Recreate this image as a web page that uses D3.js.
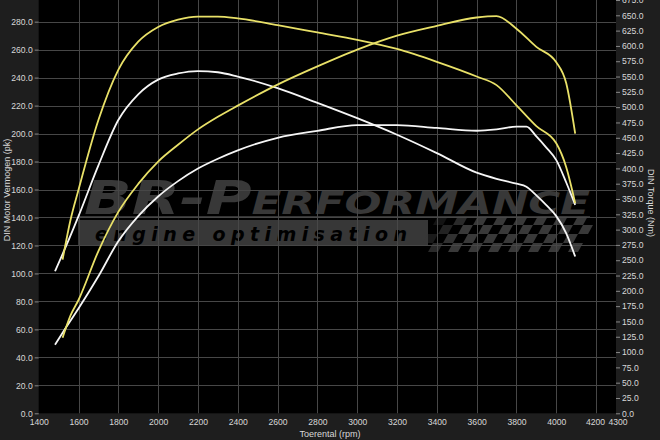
<!DOCTYPE html>
<html><head><meta charset="utf-8">
<script src="https://cdn.jsdelivr.net/npm/d3@7"></script>
<style>body{margin:0;background:#1e1e1e;} svg{display:block}</style>
</head><body><svg id="c" width="660" height="440"></svg>
<script>
// ---- data ----
const xTicks = [1400,1600,1800,2000,2200,2400,2600,2800,3000,3200,3400,3600,3800,4000,4200,4300];
const leftTicks = d3.range(0, 281, 20);
const rightTicks = d3.range(0, 676, 25);

const rpmWhite = [1482,1540,1600,1700,1800,1900,2000,2100,2200,2300,2400,2600,2800,3000,3200,3400,3600,3700,3800,3850,3900,3950,4000,4050,4095];
const whitePower = [49,62,75,98,123,141,155,166,175,182,188,197,202,206,206,204,202,203,205,205,198,190,181,165,149];
const whiteTorque = [232,275,322,405,479,521,545,555,559,557,550,531,507,482,455,425,393,383,375,370,356,340,322,294,256];

const rpmYellow = [1520,1560,1600,1700,1800,1900,2000,2100,2200,2300,2400,2600,2800,3000,3200,3400,3600,3700,3800,3900,4000,4050,4095];
const yellowPower = [54,70,81,116,144,164,180,192,203,212,220,235,248,260,270,277,283,284,275,262,251,236,200];
const yellowTorque = [251,316,365,479,561,607,631,643,648,648,645,634,622,610,595,574,550,536,503,469,441,402,343];

// ---- layout ----
const svg = d3.select('#c');
const L = 38.7, R = 616, T = 0, B = 413.3;
const x = d3.scaleLinear().domain([1400,4300]).range([L,R]);
const yL = d3.scaleLinear().domain([0,295.5]).range([B,T]);
const yR = d3.scaleLinear().domain([0,675]).range([B,T]);

svg.append('rect').attr('width',660).attr('height',440).attr('fill','#1e1e1e');
svg.append('rect').attr('x',L).attr('y',T).attr('width',R-L).attr('height',B-T).attr('fill','#000');

// ---- watermark ----
const wm = svg.append('g');
const wt = wm.append('text').attr('x',84).attr('y',214)
  .attr('font-family','DejaVu Sans').attr('font-style','italic').attr('font-weight','bold')
  .attr('fill','#383838').attr('textLength',506).attr('lengthAdjust','spacingAndGlyphs');
wt.append('tspan').attr('font-size',46).text('BR-P');
wt.append('tspan').attr('font-size',32).text('ERFORMANCE');
wm.append('rect').attr('x',80).attr('y',216).attr('width',510).attr('height',2).attr('fill','#353535');
wm.append('rect').attr('x',78).attr('y',220).attr('width',350).attr('height',26).attr('fill','#373737');
wm.append('text').attr('x',95).attr('y',241).attr('font-family','DejaVu Sans')
  .attr('font-style','italic').attr('font-weight','bold').attr('font-size',19)
  .attr('fill','#000').attr('textLength',312).attr('lengthAdjust','spacing').text('engine optimisation');
// checkered flag
const cf = wm.append('g');
const cw = 10, ch = 9;
for (let r = 0; r < 4; r++) {
  for (let c = 0; c < 18; c++) {
    if ((r + c) % 2) continue;
    const y0 = 216 + r*ch;
    const x0 = 418 + c*cw + (3 - r)*5;
    const minX = 440 - r*8;
    if (x0 < minX - 12 || x0 > 580) continue;
    const sk = 5;
    cf.append('path').attr('d',`M${x0+sk},${y0}L${x0+sk+cw},${y0}L${x0+cw},${y0+ch}L${x0},${y0+ch}Z`)
      .attr('fill','#393939').attr('opacity', Math.max(0.25, Math.min(1,(x0-minX+24)/50)));
  }
}

// ---- grid ----
const grid = svg.append('g').attr('stroke','#474747').attr('stroke-width',1);
grid.selectAll('.v').data(xTicks.slice(1,-1)).enter().append('line')
  .attr('x1',d=>Math.round(x(d))+0.5).attr('x2',d=>Math.round(x(d))+0.5).attr('y1',T).attr('y2',B);
grid.selectAll('.h').data(leftTicks.slice(1)).enter().append('line')
  .attr('y1',d=>Math.round(yL(d))+0.5).attr('y2',d=>Math.round(yL(d))+0.5).attr('x1',L).attr('x2',R);

// ---- axes ----
const fmt = d3.format('.1f');
const tf = 'Liberation Sans, Arial, sans-serif';
function styleAxis(g){
  g.select('.domain').remove();
  g.selectAll('.tick line').attr('stroke','#888');
  g.selectAll('text').attr('fill','#d8d8d8').attr('font-family',tf).attr('font-size',8.6);
}
svg.append('g').attr('transform',`translate(${L},0)`)
  .call(d3.axisLeft(yL).tickValues(leftTicks).tickFormat(fmt).tickSize(4).tickPadding(2)).call(styleAxis);
svg.append('g').attr('transform',`translate(${R},0)`)
  .call(d3.axisRight(yR).tickValues(rightTicks).tickFormat(fmt).tickSize(4).tickPadding(2)).call(styleAxis);
const bx = svg.append('g').attr('transform',`translate(0,${B})`)
  .call(d3.axisBottom(x).tickValues(xTicks).tickFormat(d3.format('d')).tickSize(0).tickPadding(6)).call(styleAxis);
bx.selectAll('.tick text').filter(d=>d===4300).attr('dx',1.5);
bx.selectAll('.tick text').filter(d=>d===4200).attr('dx',-1);

svg.append('text').attr('transform','translate(10,190) rotate(-90)').attr('text-anchor','middle')
  .attr('font-family',tf).attr('font-size',9).attr('fill','#d8d8d8').text('DIN Motor Vermogen (pk)');
svg.append('text').attr('transform','translate(648,203) rotate(90)').attr('text-anchor','middle')
  .attr('font-family',tf).attr('font-size',9).attr('fill','#d8d8d8').text('DIN Torque (Nm)');
svg.append('text').attr('x',330).attr('y',437).attr('text-anchor','middle')
  .attr('font-family',tf).attr('font-size',9).attr('fill','#d8d8d8').text('Toerental (rpm)');

// ---- curves ----
function draw(rpm, vals, yScale, color){
  const line = d3.line().x((d,i)=>x(rpm[i])).y(d=>yScale(d)).curve(d3.curveMonotoneX);
  svg.append('path').datum(vals).attr('d',line).attr('fill','none')
    .attr('stroke',color).attr('stroke-width',1.8).attr('stroke-linejoin','round');
}
const YEL = '#e9e168', WHT = '#f6f6f6';
draw(rpmWhite, whitePower, yL, WHT);
draw(rpmWhite, whiteTorque, yR, WHT);
draw(rpmYellow, yellowPower, yL, YEL);
draw(rpmYellow, yellowTorque, yR, YEL);
</script></body></html>
